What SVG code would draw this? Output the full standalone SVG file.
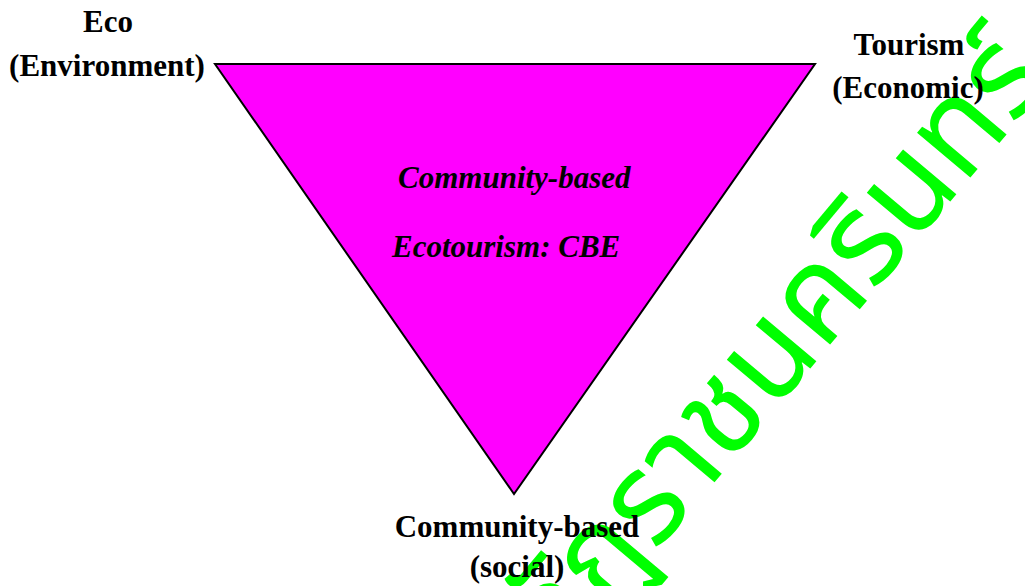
<svg xmlns="http://www.w3.org/2000/svg" width="1025" height="586" viewBox="0 0 1025 586">
<style>
.lbl{font-family:"Liberation Serif","Times New Roman",serif;font-size:31px;font-weight:bold;fill:#000;text-anchor:middle}
.inner{font-family:"Liberation Serif","Times New Roman",serif;font-size:31px;font-weight:bold;font-style:italic;fill:#000}
.wm{font-family:"Noto Sans Thai","Noto Sans","DejaVu Sans",sans-serif;font-size:127px;fill:#00ff00}
</style>
<rect width="1025" height="586" fill="#fff"/>
<g id="watermark">
<text class="wm" transform="translate(1053,79) rotate(-50)" text-anchor="end">มหาวิทยาลัยราชภัฏราชนครินทร์</text>
</g>
<g id="triangle">
<polygon points="215,64 815,64 514,494" fill="#ff00ff" stroke="#000" stroke-width="2"/>
<text class="inner" x="398" y="188">Community-based</text>
<text class="inner" x="392" y="257">Ecotourism: CBE</text>
</g>
<g id="eco">
<text class="lbl" x="108" y="32">Eco</text>
<text class="lbl" x="107" y="76">(Environment)</text>
</g>
<g id="tourism">
<text class="lbl" x="909" y="55">Tourism</text>
<text class="lbl" x="908" y="98">(Economic)</text>
</g>
<g id="community">
<text class="lbl" x="517" y="537">Community-based</text>
<text class="lbl" x="517" y="577">(social)</text>
</g>
<g id="connectors"></g>
</svg>
